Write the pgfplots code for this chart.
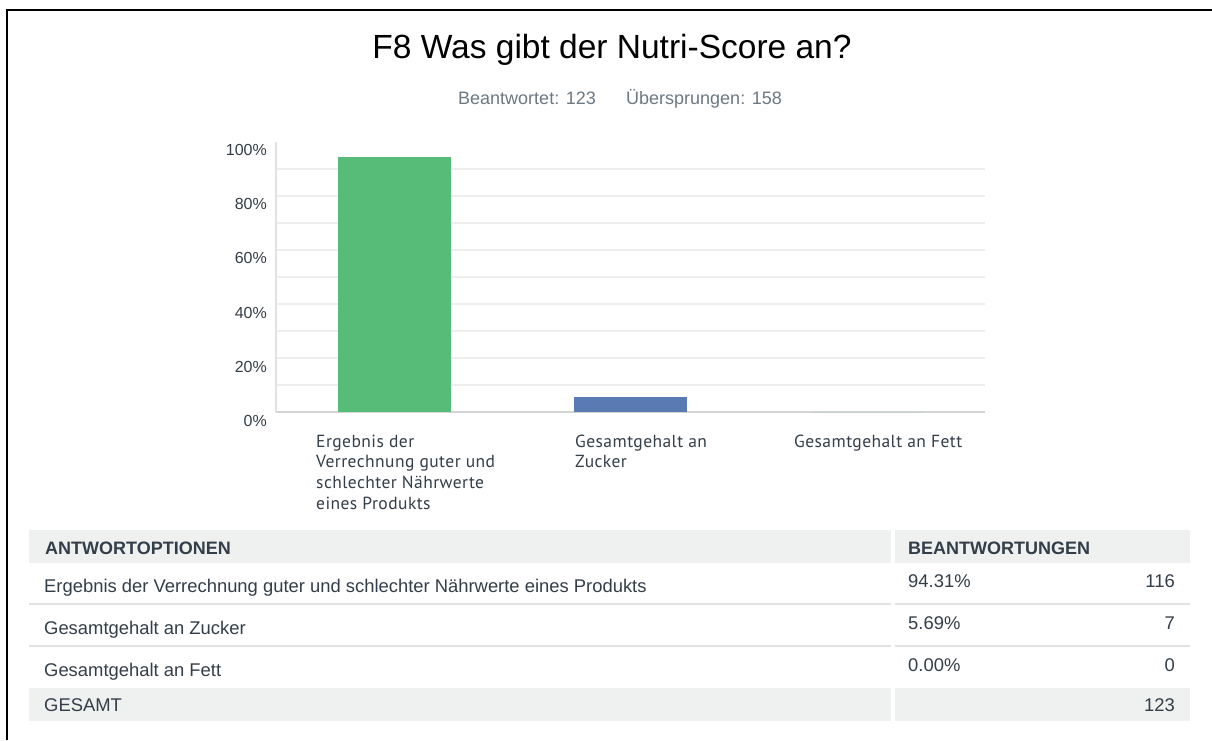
\documentclass[border=0pt]{standalone}
\usepackage{fontspec}
\setmainfont{Liberation Sans}
\newfontfamily\lblfont[LetterSpace=2.5]{PT Sans}
\usepackage{pgfplots}
\pgfplotsset{compat=1.18}

\definecolor{barGreen}{RGB}{87,188,119}
\definecolor{barBlue}{RGB}{89,122,178}
\definecolor{txt}{RGB}{51,62,72}
\definecolor{subtxt}{RGB}{108,120,130}
\definecolor{gridc}{RGB}{238,238,238}
\definecolor{basec}{RGB}{212,212,212}
\definecolor{yaxc}{RGB}{225,225,225}
\definecolor{rowbg}{RGB}{239,240,240}
\definecolor{sepc}{RGB}{226,226,226}

\begin{document}
\begin{tikzpicture}
% page in pixel coordinates, y downwards
\begin{scope}[x=1pt,y=-1pt,shift={(0pt,740pt)}]
  \useasboundingbox[fill=white] (0,0) rectangle (1212,740);
  \draw[black,line width=1.6pt] (7,740) -- (7,10) -- (1212,10);

  % title
  \node[anchor=base,inner sep=0pt,font=\fontsize{33.5}{40}\selectfont] at (612,59)
    {F8 Was gibt der Nutri-Score an?};
  \node[anchor=base west,inner sep=0pt,text=subtxt,font=\fontsize{18}{22}\selectfont] at (458,105)
    {Beantwortet: 123};
  \node[anchor=base west,inner sep=0pt,text=subtxt,font=\fontsize{18}{22}\selectfont] at (626,105)
    {Übersprungen: 158};

  % category labels
  \begin{scope}[every node/.style={anchor=base west,inner sep=0pt,text=txt}]
    \node at (316,447) {\parbox[t]{220pt}{\lblfont\fontsize{17.5}{20.8}\selectfont
      Ergebnis der\\Verrechnung guter und\\schlechter Nährwerte\\eines Produkts}};
    \node at (575,447) {\parbox[t]{220pt}{\lblfont\fontsize{17.5}{20.8}\selectfont
      Gesamtgehalt an\\Zucker}};
    \node at (794,447) {\parbox[t]{220pt}{\lblfont\fontsize{17.5}{20.8}\selectfont
      Gesamtgehalt an Fett}};
  \end{scope}

  % table
  \fill[rowbg] (29,530) rectangle (891,563);
  \fill[rowbg] (895,530) rectangle (1190,563);
  \fill[rowbg] (29,688) rectangle (891,721);
  \fill[rowbg] (895,688) rectangle (1190,721);
  \foreach \yy in {604,646}{
    \draw[sepc,line width=2.5pt] (29,\yy) -- (891,\yy);
    \draw[sepc,line width=2.5pt] (895,\yy) -- (1190,\yy);
  }
  \begin{scope}[every node/.style={inner sep=0pt,text=txt,font=\fontsize{18.4}{22}\selectfont}]
    \node[anchor=base west,font=\fontsize{18}{22}\selectfont\bfseries] at (45,554) {ANTWORTOPTIONEN};
    \node[anchor=base west,font=\fontsize{18}{22}\selectfont\bfseries] at (908,554) {BEANTWORTUNGEN};
    \node[anchor=base west] at (44,592.5) {Ergebnis der Verrechnung guter und schlechter Nährwerte eines Produkts};
    \node[anchor=base west] at (44,634.5) {Gesamtgehalt an Zucker};
    \node[anchor=base west] at (44,676.5) {Gesamtgehalt an Fett};
    \node[anchor=base west] at (908,587.5) {94.31\%};
    \node[anchor=base west] at (908,629.5) {5.69\%};
    \node[anchor=base west] at (908,671.5) {0.00\%};
    \node[anchor=base east] at (1175,587.5) {116};
    \node[anchor=base east] at (1175,629.5) {7};
    \node[anchor=base east] at (1175,671.5) {0};
    \node[anchor=base west] at (44,711) {GESAMT};
    \node[anchor=base east] at (1175,711) {123};
  \end{scope}
\end{scope}

\begin{axis}[
    at={(276pt,328pt)}, anchor=south west,
    scale only axis, width=709pt, height=270pt,
    xmin=-0.5, xmax=2.5, ymin=0, ymax=100,
    axis x line*=bottom, axis y line*=left,
    x axis line style={-,draw=basec,line width=2pt},
    y axis line style={-,draw=yaxc,line width=2pt},
    xtick=\empty,
    ytick={0,20,...,100},
    minor ytick={10,20,...,90},
    yminorgrids,
    minor grid style={draw=gridc,line width=1.5pt},
    tick style={draw=none},
    /pgf/number format/assume math mode=true,
    yticklabel={\pgfmathprintnumber{\tick}\%},
    yticklabel style={font=\fontsize{16}{19}\selectfont,text=txt,
      anchor=base east,inner sep=0pt,xshift=-9pt,yshift=-14pt},
  ]
  \addplot[ybar,bar width=113pt,bar shift=0pt,fill=barGreen,draw=none] coordinates {(0,94.31)};
  \addplot[ybar,bar width=113pt,bar shift=0pt,fill=barBlue,draw=none] coordinates {(1,5.69)};
  \addplot[ybar,bar width=113pt,bar shift=0pt,fill=barGreen,draw=none] coordinates {(2,0)};
\end{axis}
\end{tikzpicture}
\end{document}
